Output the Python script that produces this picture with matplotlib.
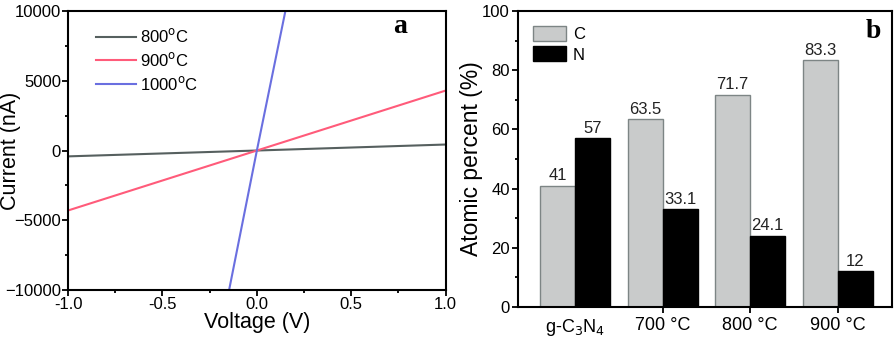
import matplotlib
matplotlib.use("Agg")
import matplotlib.pyplot as plt
from matplotlib.patches import Patch
from matplotlib.ticker import MultipleLocator

plt.rcParams['font.family'] = ['Liberation Sans', 'DejaVu Sans']

# panel a: I-V curves (straight lines)
voltage = [-1.0, 0.0, 1.0]
current_800 = [-420, 0, 430]
current_900 = [-4300, 0, 4300]
voltage_1000 = [-0.147, 0.0, 0.151]
current_1000 = [-10000, 0, 10000]

# panel b: atomic percent
samples = ['g-C$_3$N$_4$', '700 °C', '800 °C', '900 °C']
carbon = [41, 63.5, 71.7, 83.3]
nitrogen = [57, 33.1, 24.1, 12]
carbon_lbl = ['41', '63.5', '71.7', '83.3']
nitrogen_lbl = ['57', '33.1', '24.1', '12']

fig = plt.figure(figsize=(8.95, 3.41), dpi=100)

# ---- panel a
ax = fig.add_axes([0.076, 0.1496, 0.422, 0.818])
ax.plot(voltage, current_800, color='#56605f', lw=1.5, label='800$^{\\mathrm{o}}$C')
ax.plot(voltage, current_900, color='#ff5b7a', lw=1.5, label='900$^{\\mathrm{o}}$C')
ax.plot(voltage_1000, current_1000, color='#6a6fe0', lw=1.5, label='1000$^{\\mathrm{o}}$C')
ax.set_xlim(-1.0, 1.0)
ax.set_ylim(-10000, 10000)
ax.set_xticks([-1.0, -0.5, 0.0, 0.5, 1.0])
ax.set_xticklabels(['-1.0', '-0.5', '0.0', '0.5', '1.0'])
ax.set_yticks([-10000, -5000, 0, 5000, 10000])
ax.xaxis.set_minor_locator(MultipleLocator(0.25))
ax.yaxis.set_minor_locator(MultipleLocator(2500))
ax.tick_params(which='both', direction='out', labelsize=12, width=1.3)
ax.tick_params(which='major', length=4, pad=1)
ax.tick_params(which='minor', length=2.5)
ax.set_xlabel('Voltage (V)', fontsize=15.5, labelpad=0)
ax.set_ylabel('Current (nA)', fontsize=15.5)
ax.yaxis.set_label_coords(-0.125, 0.5)
for s in ax.spines.values():
    s.set_linewidth(1.5)
ax.legend(loc='upper left', bbox_to_anchor=(0.035, 0.995), frameon=False, fontsize=12,
          handlelength=2.4, handletextpad=0.2, labelspacing=0.35)
ax.text(0.88, 0.945, 'a', transform=ax.transAxes, fontsize=20, fontweight='bold',
        family='Liberation Serif', ha='center', va='center')

# ---- panel b
bx = fig.add_axes([0.5788, 0.0997, 0.418, 0.868])
x = range(len(samples))
w = 0.4
xc = [i - w / 2 for i in x]
xn = [i + w / 2 for i in x]
bx.bar(xc, carbon, w, color='#c9cbcb', edgecolor='#7d8585', lw=1.0, label='C')
bx.bar(xn, nitrogen, w, color='black', edgecolor='black', lw=1.0, label='N')
for xi, v, t in zip(xc, carbon, carbon_lbl):
    bx.text(xi, v + 0.8, t, ha='center', va='bottom', fontsize=12, color='#222222')
for xi, v, t in zip(xn, nitrogen, nitrogen_lbl):
    bx.text(xi, v + 0.8, t, ha='center', va='bottom', fontsize=12, color='#222222')
bx.set_xlim(-0.65, 3.62)
bx.set_ylim(0, 100)
bx.set_xticks(list(x))
bx.set_xticklabels(samples)
bx.xaxis.get_major_ticks()[0].tick1line.set_visible(False)
bx.set_yticks([0, 20, 40, 60, 80, 100])
bx.yaxis.set_minor_locator(MultipleLocator(10))
bx.tick_params(which='both', direction='out', labelsize=12, width=1.3)
bx.tick_params(which='major', length=4, pad=2)
bx.tick_params(which='minor', length=2.5)
bx.tick_params(axis='x', labelsize=13, pad=3)
bx.set_ylabel('Atomic percent (%)', fontsize=16.5)
bx.yaxis.set_label_coords(-0.094, 0.5)
for s in bx.spines.values():
    s.set_linewidth(1.5)
handles = [Patch(facecolor='#c9cbcb', edgecolor='#7d8585', label='C'),
           Patch(facecolor='black', edgecolor='black', label='N')]
bx.legend(handles=handles, loc='upper left', bbox_to_anchor=(0.0, 1.0), frameon=False,
          fontsize=12, handlelength=2.0, handleheight=1.0, handletextpad=0.4,
          labelspacing=0.25, borderaxespad=0.5)
bx.text(0.95, 0.93, 'b', transform=bx.transAxes, fontsize=20, fontweight='bold',
        family='Liberation Serif', ha='center', va='center')

fig.savefig('out.png', dpi=100)
